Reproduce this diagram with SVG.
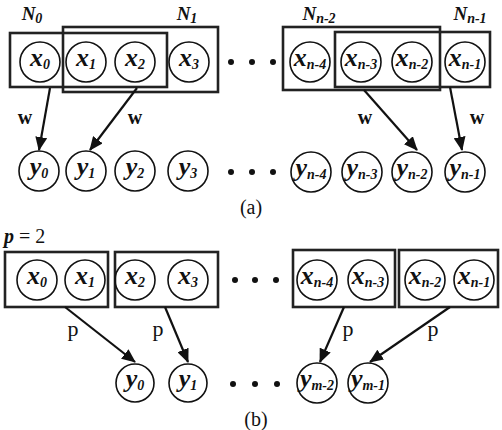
<svg xmlns="http://www.w3.org/2000/svg" width="502" height="430" viewBox="0 0 502 430">
<style>
.c{fill:none;stroke:#111;stroke-width:1.6}
.b{fill:none;stroke:#222;stroke-width:2.6}
.v{font-family:"Liberation Serif","Times New Roman",serif;font-weight:bold;font-style:italic;font-size:26px;fill:#111;text-anchor:middle}
.s{font-size:14px}
.lbl{font-family:"Liberation Serif","Times New Roman",serif;font-weight:bold;font-style:italic;font-size:19px;fill:#111;text-anchor:middle}
.a{stroke:#111;stroke-width:2.2;fill:none;marker-end:url(#ah)}
.w{font-family:"Liberation Serif","Times New Roman",serif;font-weight:bold;font-size:20px;fill:#111;text-anchor:middle}
.p{font-family:"Liberation Serif","Times New Roman",serif;font-size:22px;fill:#111;text-anchor:middle}
.cap{font-family:"Liberation Serif","Times New Roman",serif;font-size:20px;fill:#111;text-anchor:middle}
.d{fill:#111}
</style>
<defs>
<marker id="ah" viewBox="0 0 14 12" refX="13" refY="6" markerWidth="14" markerHeight="12" markerUnits="userSpaceOnUse" orient="auto">
<path d="M0,0 L14,6 L0,12 z" fill="#111"/>
</marker>
</defs>

<!-- (a) -->
<g id="N0"><rect class="b" x="10" y="33" width="157" height="54"/><text class="lbl" x="32" y="20">N<tspan class="s" dy="3">0</tspan></text></g>
<g id="N1"><rect class="b" x="63" y="27" width="155" height="65"/><text class="lbl" x="187" y="20">N<tspan class="s" dy="3">1</tspan></text></g>
<g id="Nn2"><rect class="b" x="283" y="27" width="157" height="63"/><text class="lbl" x="319" y="20">N<tspan class="s" dy="3">n-2</tspan></text></g>
<g id="Nn1"><rect class="b" x="335" y="32" width="155" height="55"/><text class="lbl" x="470" y="20">N<tspan class="s" dy="3">n-1</tspan></text></g>

<g id="ax0"><circle class="c" cx="40" cy="62" r="20"/><text class="v" x="40" y="65.5">x<tspan class="s" dy="3">0</tspan></text></g>
<g id="ax1"><circle class="c" cx="86" cy="62" r="20"/><text class="v" x="86" y="65.5">x<tspan class="s" dy="3">1</tspan></text></g>
<g id="ax2"><circle class="c" cx="135" cy="62" r="20"/><text class="v" x="135" y="65.5">x<tspan class="s" dy="3">2</tspan></text></g>
<g id="ax3"><circle class="c" cx="189" cy="62" r="20"/><text class="v" x="189" y="65.5">x<tspan class="s" dy="3">3</tspan></text></g>
<g id="axn4"><circle class="c" cx="310" cy="62" r="20"/><text class="v" x="310" y="65.5">x<tspan class="s" dy="3">n-4</tspan></text></g>
<g id="axn3"><circle class="c" cx="361" cy="62" r="20"/><text class="v" x="361" y="65.5">x<tspan class="s" dy="3">n-3</tspan></text></g>
<g id="axn2"><circle class="c" cx="412" cy="62" r="20"/><text class="v" x="412" y="65.5">x<tspan class="s" dy="3">n-2</tspan></text></g>
<g id="axn1"><circle class="c" cx="465" cy="62" r="20"/><text class="v" x="465" y="65.5">x<tspan class="s" dy="3">n-1</tspan></text></g>

<g id="ay0"><circle class="c" cx="39" cy="171" r="20"/><text class="v" x="39" y="174.5">y<tspan class="s" dy="3">0</tspan></text></g>
<g id="ay1"><circle class="c" cx="86" cy="171" r="20"/><text class="v" x="86" y="174.5">y<tspan class="s" dy="3">1</tspan></text></g>
<g id="ay2"><circle class="c" cx="135" cy="171" r="20"/><text class="v" x="135" y="174.5">y<tspan class="s" dy="3">2</tspan></text></g>
<g id="ay3"><circle class="c" cx="188" cy="171" r="20"/><text class="v" x="188" y="174.5">y<tspan class="s" dy="3">3</tspan></text></g>
<g id="ayn4"><circle class="c" cx="311" cy="172" r="20"/><text class="v" x="311" y="175.5">y<tspan class="s" dy="3">n-4</tspan></text></g>
<g id="ayn3"><circle class="c" cx="362" cy="172" r="20"/><text class="v" x="362" y="175.5">y<tspan class="s" dy="3">n-3</tspan></text></g>
<g id="ayn2"><circle class="c" cx="412" cy="172" r="20"/><text class="v" x="412" y="175.5">y<tspan class="s" dy="3">n-2</tspan></text></g>
<g id="ayn1"><circle class="c" cx="465" cy="172" r="20"/><text class="v" x="465" y="175.5">y<tspan class="s" dy="3">n-1</tspan></text></g>

<g id="adots">
<circle class="d" cx="231" cy="62" r="3"/><circle class="d" cx="252" cy="62" r="3"/><circle class="d" cx="273" cy="62" r="3"/>
<circle class="d" cx="231" cy="172" r="3"/><circle class="d" cx="252" cy="172" r="3"/><circle class="d" cx="273" cy="172" r="3"/>
</g>
<text class="cap" x="251" y="214">(a)</text>

<!-- (b) -->
<text class="lbl" x="4" y="243" style="text-anchor:start;font-size:20px">p<tspan style="font-weight:normal;font-style:normal"> = 2</tspan></text>
<g id="B1"><rect class="b" x="5" y="252" width="103" height="55"/></g>
<g id="B2"><rect class="b" x="115" y="252" width="103" height="55"/></g>
<g id="B3"><rect class="b" x="293" y="250" width="102" height="57"/></g>
<g id="B4"><rect class="b" x="399" y="250" width="99" height="57"/></g>

<g id="bx0"><circle class="c" cx="37" cy="280" r="20"/><text class="v" x="37" y="283.5">x<tspan class="s" dy="3">0</tspan></text></g>
<g id="bx1"><circle class="c" cx="85" cy="280" r="20"/><text class="v" x="85" y="283.5">x<tspan class="s" dy="3">1</tspan></text></g>
<g id="bx2"><circle class="c" cx="135" cy="280" r="20"/><text class="v" x="135" y="283.5">x<tspan class="s" dy="3">2</tspan></text></g>
<g id="bx3"><circle class="c" cx="188" cy="280" r="20"/><text class="v" x="188" y="283.5">x<tspan class="s" dy="3">3</tspan></text></g>
<g id="bxn4"><circle class="c" cx="317" cy="280" r="20"/><text class="v" x="317" y="283.5">x<tspan class="s" dy="3">n-4</tspan></text></g>
<g id="bxn3"><circle class="c" cx="368" cy="280" r="20"/><text class="v" x="368" y="283.5">x<tspan class="s" dy="3">n-3</tspan></text></g>
<g id="bxn2"><circle class="c" cx="425" cy="280" r="20"/><text class="v" x="425" y="283.5">x<tspan class="s" dy="3">n-2</tspan></text></g>
<g id="bxn1"><circle class="c" cx="474" cy="280" r="20"/><text class="v" x="474" y="283.5">x<tspan class="s" dy="3">n-1</tspan></text></g>

<g id="by0"><circle class="c" cx="135" cy="383" r="19"/><text class="v" x="135" y="386.5">y<tspan class="s" dy="3">0</tspan></text></g>
<g id="by1"><circle class="c" cx="188" cy="383" r="19"/><text class="v" x="188" y="386.5">y<tspan class="s" dy="3">1</tspan></text></g>
<g id="bym2"><circle class="c" cx="317" cy="383" r="20"/><text class="v" x="317" y="386.5">y<tspan class="s" dy="3">m-2</tspan></text></g>
<g id="bym1"><circle class="c" cx="368" cy="383" r="20"/><text class="v" x="368" y="386.5">y<tspan class="s" dy="3">m-1</tspan></text></g>

<g id="bdots">
<circle class="d" cx="235" cy="280" r="3"/><circle class="d" cx="255" cy="280" r="3"/><circle class="d" cx="276" cy="280" r="3"/>
<circle class="d" cx="233" cy="384" r="3"/><circle class="d" cx="255" cy="384" r="3"/><circle class="d" cx="277" cy="384" r="3"/>
</g>
<text class="cap" x="256" y="426">(b)</text>

<g id="connectors">
<line class="a" x1="50" y1="88" x2="39" y2="150"/>
<line class="a" x1="137" y1="88" x2="90" y2="150"/>
<line class="a" x1="364" y1="90" x2="417" y2="150"/>
<line class="a" x1="450" y1="87" x2="462" y2="150"/>
<line class="a" x1="65" y1="307" x2="135" y2="362"/>
<line class="a" x1="165" y1="307" x2="188" y2="362"/>
<line class="a" x1="344" y1="307" x2="320" y2="362"/>
<line class="a" x1="450" y1="307" x2="370" y2="362"/>
</g>
<g id="labels">
<text class="w" x="25" y="124">w</text>
<text class="w" x="135" y="124">w</text>
<text class="w" x="365" y="124">w</text>
<text class="w" x="477" y="124">w</text>
<text class="p" x="73" y="336">p</text>
<text class="p" x="158" y="336">p</text>
<text class="p" x="348" y="336">p</text>
<text class="p" x="433" y="336">p</text>
</g>
</svg>
